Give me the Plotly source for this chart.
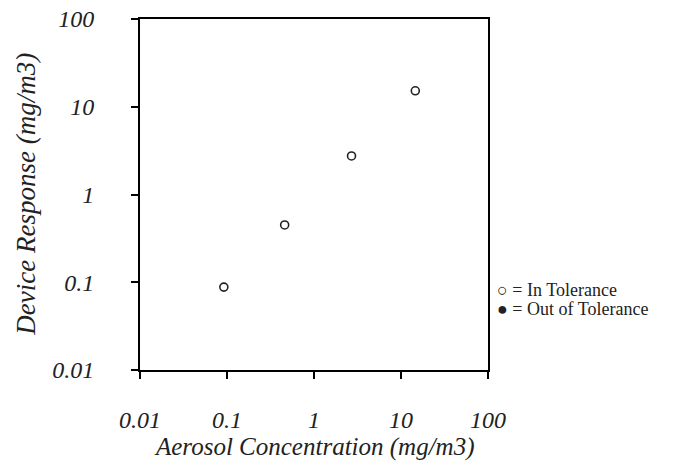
import plotly.graph_objects as go

aerosol_conc = [0.092, 0.46, 2.7, 14.6]
device_resp = [0.088, 0.45, 2.75, 15.2]
tick_vals = [0.01, 0.1, 1, 10, 100]
tick_text = ["0.01", "0.1", "1", "10", "100"]
legend_items = ["\u25cb = In Tolerance", "\u25cf = Out of Tolerance"]

FONT = "Liberation Serif"

fig = go.Figure()
fig.add_trace(go.Scatter(
    x=aerosol_conc, y=device_resp, mode="markers",
    marker=dict(symbol="circle-open", size=8, color="#222",
                line=dict(width=1.6, color="#222")),
    showlegend=False,
))

axis_common = dict(
    type="log", showgrid=False, zeroline=False, automargin=False,
    showline=True, linecolor="black", linewidth=2, mirror=True,
    ticks="outside", ticklen=7, tickwidth=1.5, tickcolor="black",
    tickvals=tick_vals, ticktext=tick_text, ticklabeloverflow="allow",
    tickfont=dict(family=FONT, size=24, color="#222", style="italic"),
)

fig.update_xaxes(range=[-2, 2], ticklabelstandoff=20, **axis_common)
fig.update_yaxes(range=[-2, 2], ticklabelstandoff=32, **axis_common)

fig.add_annotation(
    text="Aerosol Concentration (mg/m3)", xref="paper", yref="paper",
    x=0.5, y=-0.22, xanchor="center", yanchor="middle", showarrow=False,
    font=dict(family=FONT, size=25, color="#222", style="italic"),
)
fig.add_annotation(
    text="Device Response (mg/m3)", xref="paper", yref="paper",
    x=-0.33, y=0.5, xanchor="center", yanchor="middle", showarrow=False,
    textangle=-90,
    font=dict(family=FONT, size=27, color="#222", style="italic"),
)

for i, t in enumerate(legend_items):
    fig.add_annotation(
        text=t, xref="paper", yref="paper", x=1.02, y=0.228 - i * 0.053,
        xanchor="left", yanchor="middle", showarrow=False,
        font=dict(family=FONT, size=18, color="#222"),
    )

fig.update_layout(
    width=692, height=462,
    margin=dict(l=140, r=204, t=19, b=92),
    paper_bgcolor="white", plot_bgcolor="white",
)

# remove the default page margin so the figure fills the window exactly
fig.write_html(
    "out.html",
    config={"displayModeBar": False},
    post_script="document.body.style.margin='0';document.body.style.overflow='hidden';",
)
